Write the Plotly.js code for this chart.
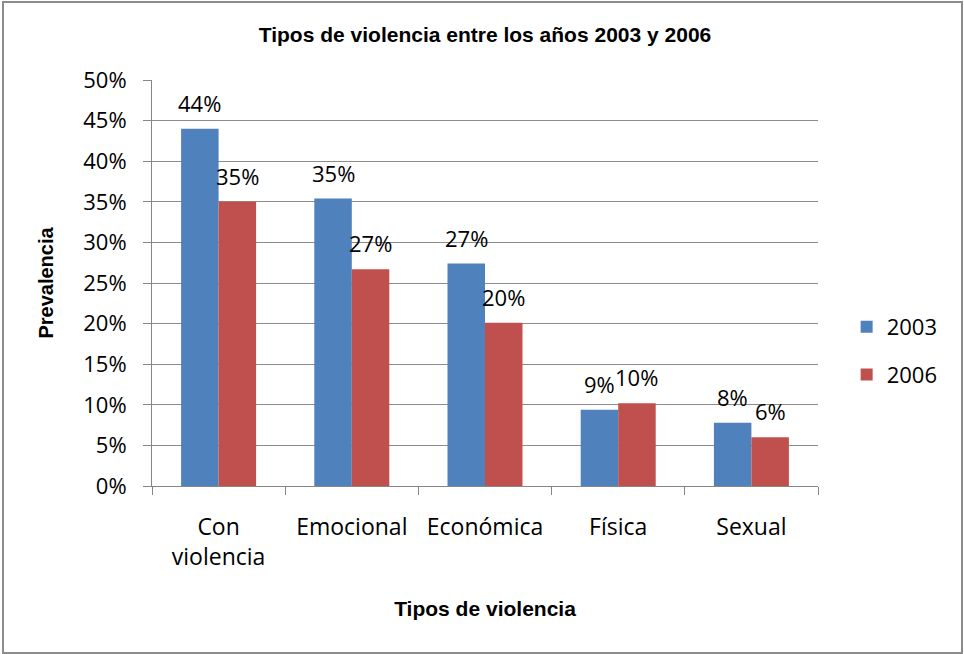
<!DOCTYPE html>
<html>
<head>
<meta charset="utf-8">
<script src="https://cdn.plot.ly/plotly-3.0.1.min.js"></script>
<style>
  html, body { margin: 0; padding: 0; background: #fff; }
  #chart { width: 964px; height: 654px; position: absolute; left: 0; top: 0; }
  #frame { position: absolute; left: 2px; top: 1px; width: 957px; height: 649px; border: 2px solid #8c8c8c; pointer-events: none; }
</style>
</head>
<body>
<div id="chart"></div>
<div id="frame"></div>
<script>
const categories = ['Con<br>violencia', 'Emocional', 'Económica', 'Física', 'Sexual'];
const values2003 = [0.440, 0.354, 0.274, 0.094, 0.078];
const values2006 = [0.350, 0.267, 0.201, 0.102, 0.060];
const labels2003 = ['44%', '35%', '27%', '9%', '8%'];
const labels2006 = ['35%', '27%', '20%', '10%', '6%'];
const seriesNames = ['2003', '2006'];

const bodyFont = 'Open Sans, Noto Sans, sans-serif';
const boldFont = 'Liberation Sans, Arial, sans-serif';

const traces = [
  { type: 'bar', name: seriesNames[0], x: categories, y: values2003,
    marker: { color: '#4F81BD' }, legendgroup: 'a', hoverinfo: 'skip' },
  { type: 'bar', name: seriesNames[1], x: categories, y: values2006,
    marker: { color: '#C0504D' }, legendgroup: 'b', hoverinfo: 'skip' }
];

const annotations = [];
categories.forEach((c, i) => {
  annotations.push({ x: c, y: values2003[i], text: labels2003[i], showarrow: false,
    xshift: -18.7, yshift: 26, yanchor: 'middle', font: { family: bodyFont, size: 22, color: '#000' } });
  annotations.push({ x: c, y: values2006[i], text: labels2006[i], showarrow: false,
    xshift: 18.7, yshift: 26, yanchor: 'middle', font: { family: bodyFont, size: 22, color: '#000' } });
});

const layout = {
  width: 964, height: 654,
  margin: { l: 152, r: 146, t: 80, b: 168 },
  paper_bgcolor: '#ffffff', plot_bgcolor: '#ffffff',
  barmode: 'group', bargap: 0.437, bargroupgap: 0,
  title: { text: 'Tipos de violencia entre los años 2003 y 2006',
    font: { family: boldFont, size: 21, color: '#000', weight: 'bold' },
    x: 0.5, xanchor: 'center', y: 1 - 35/654, yanchor: 'middle', xref: 'paper' },
  xaxis: {
    type: 'category', tickson: 'boundaries', ticks: 'outside', ticklen: 8,
    tickcolor: '#868686', showline: true, linecolor: '#868686', linewidth: 1,
    showgrid: false, ticklabelstandoff: 20,
    tickfont: { family: bodyFont, size: 23, color: '#000' },
    title: { text: 'Tipos de violencia', standoff: 30,
      font: { family: boldFont, size: 21, color: '#000', weight: 'bold' } }
  },
  yaxis: {
    range: [0, 0.5], dtick: 0.05, tick0: 0, tickformat: '.0%',
    ticks: 'outside', ticklen: 8, tickcolor: '#868686',
    showline: true, linecolor: '#868686', linewidth: 1,
    showgrid: true, gridcolor: '#8c8c8c', gridwidth: 1,
    zeroline: false, ticklabelstandoff: 12,
    tickfont: { family: bodyFont, size: 22, color: '#000' },
    title: { text: 'Prevalencia', standoff: 24,
      font: { family: boldFont, size: 20, color: '#000', weight: 'bold' } }
  },
  showlegend: true,
  legend: {
    x: 1.043, xanchor: 'left', y: 0.3325, yanchor: 'middle',
    traceorder: 'grouped', tracegroupgap: 16,
    font: { family: bodyFont, size: 22, color: '#000' },
    bgcolor: 'rgba(0,0,0,0)'
  },
  annotations: annotations
};

Plotly.newPlot('chart', traces, layout, { displayModeBar: false, staticPlot: true });
</script>
</body>
</html>
